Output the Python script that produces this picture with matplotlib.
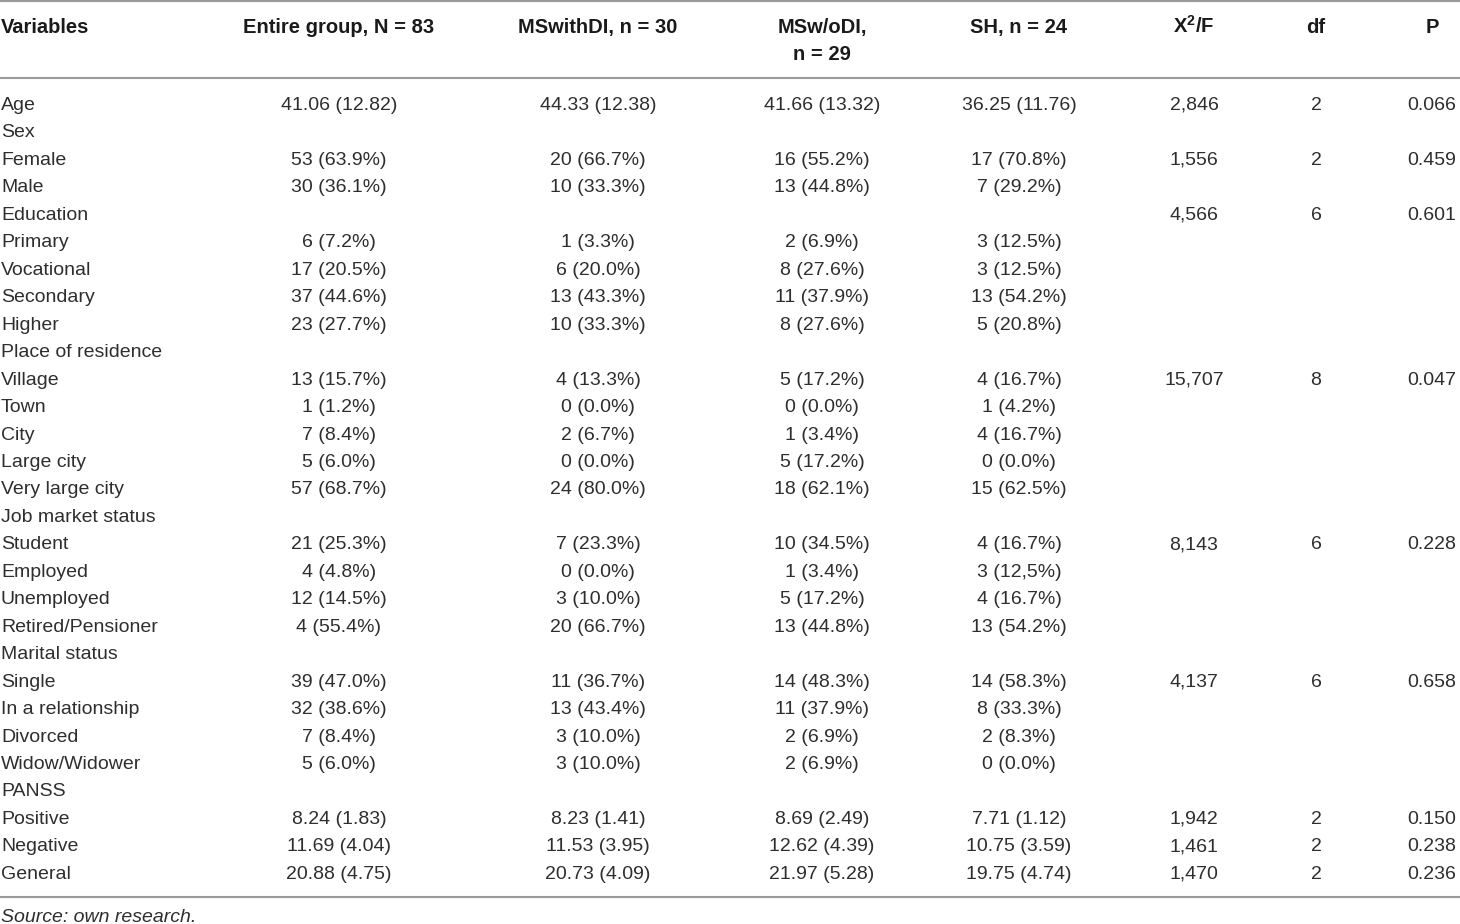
import matplotlib
matplotlib.use("Agg")
import matplotlib.pyplot as plt
from matplotlib.lines import Line2D

W, H = 1460, 924

headers = ["Variables", "Entire group, N = 83", "MSwithDI, n = 30", "MSw/oDI,\nn = 29",
           "SH, n = 24", r"X$^{\mathbf{2}}$/F", "df", "P"]

variables = ["Age", "Sex", "Female", "Male", "Education", "Primary", "Vocational", "Secondary",
             "Higher", "Place of residence", "Village", "Town", "City", "Large city",
             "Very large city", "Job market status", "Student", "Employed", "Unemployed",
             "Retired/Pensioner", "Marital status", "Single", "In a relationship", "Divorced",
             "Widow/Widower", "PANSS", "Positive", "Negative", "General"]

entire = ["41.06 (12.82)", "", "53 (63.9%)", "30 (36.1%)", "", "6 (7.2%)", "17 (20.5%)",
          "37 (44.6%)", "23 (27.7%)", "", "13 (15.7%)", "1 (1.2%)", "7 (8.4%)", "5 (6.0%)",
          "57 (68.7%)", "", "21 (25.3%)", "4 (4.8%)", "12 (14.5%)", "4 (55.4%)", "",
          "39 (47.0%)", "32 (38.6%)", "7 (8.4%)", "5 (6.0%)", "", "8.24 (1.83)",
          "11.69 (4.04)", "20.88 (4.75)"]

ms_with = ["44.33 (12.38)", "", "20 (66.7%)", "10 (33.3%)", "", "1 (3.3%)", "6 (20.0%)",
           "13 (43.3%)", "10 (33.3%)", "", "4 (13.3%)", "0 (0.0%)", "2 (6.7%)", "0 (0.0%)",
           "24 (80.0%)", "", "7 (23.3%)", "0 (0.0%)", "3 (10.0%)", "20 (66.7%)", "",
           "11 (36.7%)", "13 (43.4%)", "3 (10.0%)", "3 (10.0%)", "", "8.23 (1.41)",
           "11.53 (3.95)", "20.73 (4.09)"]

ms_without = ["41.66 (13.32)", "", "16 (55.2%)", "13 (44.8%)", "", "2 (6.9%)", "8 (27.6%)",
              "11 (37.9%)", "8 (27.6%)", "", "5 (17.2%)", "0 (0.0%)", "1 (3.4%)", "5 (17.2%)",
              "18 (62.1%)", "", "10 (34.5%)", "1 (3.4%)", "5 (17.2%)", "13 (44.8%)", "",
              "14 (48.3%)", "11 (37.9%)", "2 (6.9%)", "2 (6.9%)", "", "8.69 (2.49)",
              "12.62 (4.39)", "21.97 (5.28)"]

sh = ["36.25 (11.76)", "", "17 (70.8%)", "7 (29.2%)", "", "3 (12.5%)", "3 (12.5%)",
      "13 (54.2%)", "5 (20.8%)", "", "4 (16.7%)", "1 (4.2%)", "4 (16.7%)", "0 (0.0%)",
      "15 (62.5%)", "", "4 (16.7%)", "3 (12,5%)", "4 (16.7%)", "13 (54.2%)", "",
      "14 (58.3%)", "8 (33.3%)", "2 (8.3%)", "0 (0.0%)", "", "7.71 (1.12)",
      "10.75 (3.59)", "19.75 (4.74)"]

x2f = ["2,846", "", "1,556", "", "4,566", "", "", "", "", "", "15,707", "", "", "", "",
       "", "8,143", "", "", "", "", "4,137", "", "", "", "", "1,942", "1,461", "1,470"]

dfs = ["2", "", "2", "", "6", "", "", "", "", "", "8", "", "", "", "",
       "", "6", "", "", "", "", "6", "", "", "", "", "2", "2", "2"]

pvals = ["0.066", "", "0.459", "", "0.601", "", "", "", "", "", "0.047", "", "", "", "",
         "", "0.228", "", "", "", "", "0.658", "", "", "", "", "0.150", "0.238", "0.236"]

source = "Source: own research."

plt.rcParams['font.family'] = ['Liberation Sans', 'DejaVu Sans']
plt.rcParams['mathtext.fontset'] = 'custom'
plt.rcParams['mathtext.rm'] = 'Liberation Sans'
plt.rcParams['mathtext.bf'] = 'Liberation Sans:bold'
plt.rcParams['mathtext.default'] = 'bf'
TXT = '#2e2e2e'
FS = 14.0
FSB = 14.5

fig = plt.figure(figsize=(W / 100, H / 100), dpi=100)
fig.patch.set_facecolor('white')

def fx(x):
    return x / W

def fy(y):
    return 1 - y / H

col_x = [1, 339, 598, 822, 1019, 1194, 1316, 1432]
col_ha = ['left'] + ['center'] * 7
columns = [variables, entire, ms_with, ms_without, sh, x2f, dfs, pvals]

# header
for j, h in enumerate(headers):
    lines = h.split("\n")
    for k, ln in enumerate(lines):
        fig.text(fx(col_x[j]), fy(33 + k * 26.5), ln, ha=col_ha[j], va='baseline',
                 fontsize=FSB, fontweight='bold', color='#1a1a1a')

# body
base0, step = 110, 27.46
for i in range(len(variables)):
    yb = base0 + i * step
    for j, col in enumerate(columns):
        if col[i]:
            fig.text(fx(col_x[j]), fy(yb), col[i], ha=col_ha[j], va='baseline',
                     fontsize=FS, color=TXT)

# rules
for y in [1, 78, 897]:
    fig.add_artist(Line2D([0, 1], [fy(y), fy(y)], color='#9a9a9a', linewidth=1.5,
                          transform=fig.transFigure))

fig.text(fx(1), fy(922), source, ha='left', va='baseline', fontsize=FS,
         fontstyle='italic', color=TXT)

fig.savefig("out.png", dpi=100, facecolor='white')
